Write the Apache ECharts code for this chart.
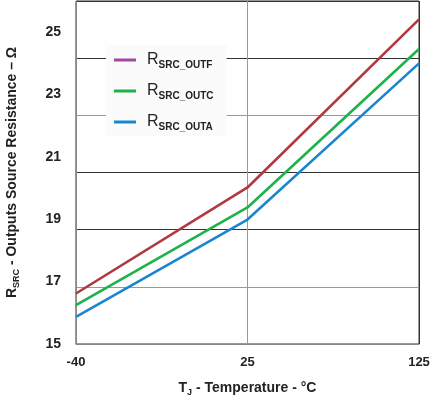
<!DOCTYPE html>
<html>
<head>
<meta charset="utf-8">
<script src="https://cdn.jsdelivr.net/npm/echarts@6/dist/echarts.min.js"></script>
<style>
  html, body { margin: 0; padding: 0; background: #fff; }
  #chart { width: 431px; height: 396px; }
</style>
</head>
<body>
<div id="chart"></div>
<script>
// temperatures (evenly spaced on the original plot)
var temps = ['-40', '25', '125'];
var outF = [16.62, 20.02, 25.41];
var outC = [16.25, 19.38, 24.46];
var outA = [15.87, 18.99, 24.0];
var names = ['SRC_OUTF', 'SRC_OUTC', 'SRC_OUTA'];

var font = '"Liberation Sans", Arial, sans-serif';
var lineColors = ['#b2383d', '#1eb24b', '#1a86d0'];
var legendColors = ['#a3469f', '#1eb24b', '#1a86d0'];

var myChart = echarts.init(document.getElementById('chart'));

var option = {
  animation: false,
  textStyle: { fontFamily: font },
  grid: {
    left: 76,
    right: 12,
    top: 1,
    bottom: 52,
    containLabel: false,
    outerBoundsMode: 'none',
    show: true,
    borderColor: '#333',
    borderWidth: 1
  },
  legend: {
    left: 106,
    top: 45,
    orient: 'vertical',
    padding: [5, 13, 4, 8],
    backgroundColor: '#fbfbfb',
    itemWidth: 22,
    itemHeight: 3,
    itemGap: 11,
    icon: 'rect',
    data: names.map(function (n, i) {
      return { name: n, itemStyle: { color: legendColors[i] } };
    }),
    formatter: function (n) {
      return '{r|R}{s|' + n + '}';
    },
    textStyle: {
      rich: {
        r: { fontSize: 16, lineHeight: 18, color: '#222', fontFamily: font, padding: [0, 0, 0, 6] },
        s: { fontSize: 10, lineHeight: 10, color: '#222', fontFamily: font, fontWeight: 'bold', padding: [10, 0, 0, 0] }
      }
    }
  },
  xAxis: {
    type: 'category',
    data: temps,
    boundaryGap: false,
    name: '{t|T}{s|J}{t| - Temperature - °C}',
    nameLocation: 'middle',
    nameGap: 36,
    nameTextStyle: {
      rich: {
        t: { fontSize: 14, fontWeight: 'bold', color: '#222', fontFamily: font, lineHeight: 16 },
        s: { fontSize: 9, fontWeight: 'bold', color: '#222', fontFamily: font, lineHeight: 9, padding: [9, 0, 0, 0] }
      }
    },
    axisLine: { lineStyle: { color: '#888', width: 1 } },
    axisTick: { show: false },
    axisLabel: { fontSize: 13, fontWeight: 'bold', color: '#222', margin: 12, fontFamily: font },
    splitLine: { show: true, lineStyle: { color: ['#333', '#999', '#333'], width: 1 } }
  },
  yAxis: [{
    type: 'value',
    min: 15,
    max: 26,
    interval: 2,
    name: '{r|R}{s|SRC}{t| - Outputs Source Resistance – Ω}',
    nameLocation: 'middle',
    nameGap: 56,
    nameTextStyle: {
      rich: {
        r: { fontSize: 14, fontWeight: 'bold', color: '#222', fontFamily: font, lineHeight: 16 },
        t: { fontSize: 14, fontWeight: 'bold', color: '#222', fontFamily: font, lineHeight: 16 },
        s: { fontSize: 9, fontWeight: 'bold', color: '#222', fontFamily: font, lineHeight: 9, padding: [9, 0, 0, 0] }
      }
    },
    axisLine: { show: true, lineStyle: { color: '#888', width: 1 } },
    axisTick: { show: false },
    axisLabel: { fontSize: 14, fontWeight: 'bold', color: '#222', margin: 15, showMaxLabel: false, fontFamily: font },
    splitLine: { show: false }
  }, {
    // gridlines of the original split the plot into 6 equal bands
    type: 'value',
    min: 0,
    max: 6,
    interval: 1,
    position: 'right',
    axisLine: { show: false },
    axisTick: { show: false },
    axisLabel: { show: false },
    splitLine: { show: true, lineStyle: { color: ['#888', '#999', '#333', '#333', '#999', '#333', '#333'], width: 1 } }
  }],
  series: [
    { name: names[0], type: 'line', data: outF },
    { name: names[1], type: 'line', data: outC },
    { name: names[2], type: 'line', data: outA }
  ].map(function (s, i) {
    s.yAxisIndex = 0;
    s.symbol = 'none';
    s.lineStyle = { color: lineColors[i], width: 2.6 };
    s.itemStyle = { color: lineColors[i] };
    s.z = 3 - i + 2;
    return s;
  })
};

myChart.setOption(option, true);
</script>
</body>
</html>
